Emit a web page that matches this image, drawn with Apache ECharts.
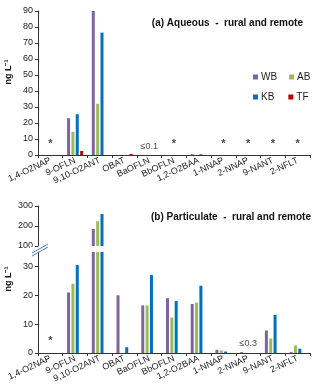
<!DOCTYPE html>
<html lang="en">
<head>
    <meta charset="UTF-8">
    <script src="https://cdn.jsdelivr.net/npm/echarts/dist/echarts.min.js"></script>
    <style>
        body, html { margin: 0; padding: 0; width: 100%; height: 100%; background: #fff; }
        #chart { width: 320px; height: 390px; }
    </style>
</head>
<body>
    <div id="chart"></div>
    <script>
        const categories = ['1,4-O2NAP', '9-OFLN', '9,10-O2ANT', 'OBAT', 'BaOFLN', 'BbOFLN', '1,2-O2BAA', '1-NNAP', '2-NNAP', '9-NANT', '2-NFLT'];
        const seriesNames = ['WB', 'AB', 'KB', 'TF'];
        const colors = ['#8064A2', '#9BBB59', '#0070C0', '#C00000'];

        // (a) aqueous, ng/L
        const aqWB = [null, 23, 90, null, null, null, 0.5, null, null, null, null];
        const aqAB = [null, 14.5, 32, null, null, null, null, null, null, null, null];
        const aqKB = [null, 25.5, 76.5, null, null, null, 0.5, null, null, null, null];
        const aqTF = [null, 2.5, null, 0.7, null, null, null, null, null, null, null];
        // notes shown above categories in (a)
        const aqNotes = ['*', '', '', '', '≤0.1', '*', '', '*', '*', '*', '*'];
        const aqNoteY = [7, null, null, null, 5, 7, null, 7, 7, 7, 7];

        // (b) particulate, ng/L
        const ptWB = [null, 21, 185, 20, 16.5, 19, 17, 1.1, 0.3, 7.8, 0.3];
        const ptAB = [null, 24, 224, null, 16.5, 12.3, 17.5, 0.9, null, 5, 2.6];
        const ptKB = [null, 30.5, 260, 2, 27, 18, 23.3, 0.5, null, 13.2, 1.5];
        const ptTF = [null, null, null, null, null, null, null, null, null, null, null];
        const ptNotes = ['*', '', '', '', '', '', '', '', '≤0.3', '', ''];
        const ptNoteY = [4, null, null, null, null, null, null, null, 3.3, null, null];

        const aqData = [aqWB, aqAB, aqKB, aqTF];
        const ptData = [ptWB, ptAB, ptKB, ptTF];

        const font = 'Liberation Sans';
        const axisColor = '#333';

        function catAxis(gridIndex, showLabels) {
            return {
                type: 'category',
                gridIndex: gridIndex,
                data: categories,
                axisLine: { show: showLabels, lineStyle: { color: axisColor, width: 1 } },
                axisTick: { show: showLabels, length: 3, lineStyle: { color: axisColor } },
                axisLabel: {
                    show: showLabels, interval: 0, rotate: 25, margin: 5,
                    fontFamily: font, fontSize: 9, color: '#222'
                }
            };
        }

        function valAxis(gridIndex, min, max, interval, showMax) {
            return {
                type: 'value',
                gridIndex: gridIndex,
                min: min, max: max, interval: interval,
                splitLine: { show: false },
                axisLine: { show: true, lineStyle: { color: axisColor } },
                axisTick: { show: true, length: 3, lineStyle: { color: axisColor } },
                axisLabel: { fontFamily: font, fontSize: 9, color: '#222', margin: 5, showMaxLabel: showMax }
            };
        }

        function bars(dataSets, xIdx, yIdx) {
            return dataSets.map((d, i) => ({
                name: seriesNames[i],
                type: 'bar',
                xAxisIndex: xIdx, yAxisIndex: yIdx,
                data: d,
                barWidth: 3,
                barGap: '45%',
                clip: true,
                itemStyle: { color: colors[i] },
                animation: false
            }));
        }

        function notes(labels, ys, xIdx, yIdx) {
            return {
                type: 'scatter',
                xAxisIndex: xIdx, yAxisIndex: yIdx,
                symbolSize: 0,
                silent: true,
                animation: false,
                data: ys.map((y, i) => y === null ? null : [i, y]),
                label: {
                    show: true, position: 'inside',
                    fontFamily: font, color: '#111',
                    formatter: p => labels[p.dataIndex] === '*' ? '{s|*}' : '{t|' + labels[p.dataIndex] + '}',
                    rich: {
                        s: { fontFamily: font, fontSize: 11, fontWeight: 'bold', color: '#111' },
                        t: { fontFamily: font, fontSize: 9, color: '#222' }
                    }
                }
            };
        }

        const chart = echarts.init(document.getElementById('chart'), null, { renderer: 'canvas' });
        chart.setOption({
            animation: false,
            textStyle: { fontFamily: font },
            title: [
                { text: '(a) Aqueous  -  rural and remote', right: 12, top: 13,
                  textStyle: { fontFamily: font, fontSize: 10, fontWeight: 'bold', color: '#111' } },
                { text: '(b) Particulate  -  rural and remote', right: 4, top: 207,
                  textStyle: { fontFamily: font, fontSize: 10, fontWeight: 'bold', color: '#111' } }
            ],
            legend: [
                { data: ['WB', 'AB'], left: 248, top: 67, itemWidth: 5, itemHeight: 5, itemGap: 12,
                  icon: 'rect', textStyle: { fontFamily: font, fontSize: 10, color: '#222', padding: [0, 0, 0, -2] } },
                { data: ['KB', 'TF'], left: 248, top: 87, itemWidth: 5, itemHeight: 5, itemGap: 14,
                  icon: 'rect', textStyle: { fontFamily: font, fontSize: 10, color: '#222', padding: [0, 0, 0, -2] } }
            ],
            grid: [
                { left: 38, right: 10, top: 11, height: 144 },
                { left: 38, right: 10, top: 206, height: 40 },
                { left: 38, right: 10, top: 252, height: 101 }
            ],
            xAxis: [catAxis(0, true), catAxis(1, false), catAxis(2, true)],
            yAxis: [
                valAxis(0, 0, 90, 10, true),
                valAxis(1, 100, 300, 100, true),
                valAxis(2, 0, 35, 10, false)
            ],
            series: [
                ...bars(aqData, 0, 0),
                ...bars(ptData, 1, 1),
                ...bars(ptData, 2, 2),
                notes(aqNotes, aqNoteY, 0, 0),
                notes(ptNotes, ptNoteY, 2, 2)
            ],
            graphic: [
                { type: 'text', x: 9, y: 72, rotation: Math.PI / 2, style: {
                    text: 'ng L⁻¹', font: 'bold 9px Liberation Sans', fill: '#111', align: 'center', verticalAlign: 'middle' } },
                { type: 'text', x: 9, y: 279, rotation: Math.PI / 2, style: {
                    text: 'ng L⁻¹', font: 'bold 9px Liberation Sans', fill: '#111', align: 'center', verticalAlign: 'middle' } },
                // axis break marks
                { type: 'rect', shape: { x: 30, y: 247, width: 280, height: 4 }, style: { fill: '#fff' }, z: 100 },
                { type: 'line', shape: { x1: 32, y1: 253, x2: 48, y2: 244 }, style: { stroke: '#4F81BD', lineWidth: 1 }, z: 101 },
                { type: 'line', shape: { x1: 32, y1: 256, x2: 48, y2: 247 }, style: { stroke: '#4F81BD', lineWidth: 1 }, z: 101 }
            ]
        });
    </script>
</body>
</html>
